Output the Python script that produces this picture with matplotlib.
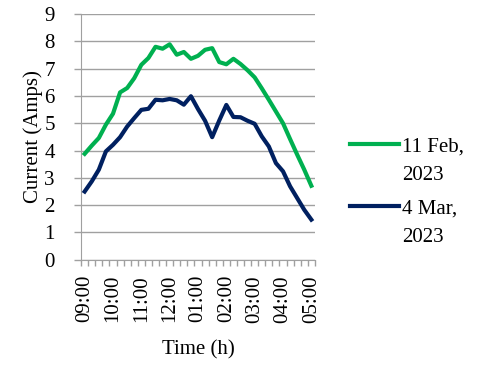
import matplotlib.pyplot as plt
from matplotlib.text import Annotation
import numpy as np

plt.rcParams['font.family'] = ['Liberation Serif', 'DejaVu Serif']

# 15-minute readings from 09:00 to 05:00
hour_labels = ["09:00", "10:00", "11:00", "12:00", "01:00", "02:00", "03:00", "04:00", "05:00"]
feb_11 = [3.88, 4.18, 4.46, 4.95, 5.35, 6.13, 6.29, 6.65, 7.14, 7.39, 7.80,
          7.73, 7.89, 7.51, 7.61, 7.36, 7.47, 7.69, 7.75, 7.24, 7.16, 7.36,
          7.17, 6.94, 6.68, 6.28, 5.86, 5.43, 5.00, 4.42, 3.85, 3.30, 2.71]
mar_4 = [2.50, 2.87, 3.30, 3.97, 4.21, 4.49, 4.88, 5.19, 5.49, 5.53, 5.86,
         5.84, 5.89, 5.84, 5.68, 5.99, 5.52, 5.09, 4.49, 5.10, 5.67, 5.23,
         5.22, 5.09, 4.98, 4.52, 4.15, 3.54, 3.24, 2.69, 2.26, 1.83, 1.47]
series_names = ["11 Feb,", "4 Mar,"]
series_year = "2023"

x = np.arange(len(feb_11))
grey = '#a0a0a0'
fs = 15

fig = plt.figure(figsize=(4.8, 3.69), dpi=100)
ax = fig.add_axes([0.169, 0.296, 0.487, 0.666])

ax.plot(x, feb_11, color='#00b050', lw=3, label=series_names[0], zorder=3)
ax.plot(x, mar_4, color='#002060', lw=3, label=series_names[1], zorder=3)

ax.set_xlim(-0.5, len(x) - 0.5)
ax.set_ylim(0, 9)
ax.set_yticks(range(0, 10))
ax.yaxis.grid(True, color=grey, lw=1)
ax.set_axisbelow(True)

# tick marks between categories, labels every hour
ax.set_xticks(np.arange(-0.5, len(x), 1))
ax.set_xticklabels([])
ax.set_xticks(x[::4], minor=True)
ax.set_xticklabels(hour_labels, minor=True, rotation=90, fontsize=fs)
ax.tick_params(axis='x', which='major', length=4, color=grey, width=1)
ax.tick_params(axis='x', which='minor', length=0, pad=11)
ax.tick_params(axis='y', length=5, color=grey, width=1, labelsize=fs, pad=14)

for s in ['top', 'right']:
    ax.spines[s].set_visible(False)
for s in ['left', 'bottom']:
    ax.spines[s].set_color(grey)

ax.set_ylabel('Current (Amps)', fontsize=fs, labelpad=1)
ax.set_xlabel('Time (h)', fontsize=fs, labelpad=13)

leg = fig.legend(loc='upper left', bbox_to_anchor=(0.69, 0.68), frameon=False,
                 fontsize=fs, handlelength=2.35, handletextpad=0.15, labelspacing=2.05)
# second line of each legend label, drawn after the legend
for t in leg.get_texts():
    a = Annotation(series_year, xy=(0, 0), xycoords=t, xytext=(0, -7),
                   textcoords='offset points', va='top', ha='left', fontsize=fs)
    a.set_zorder(10)
    fig.add_artist(a)

plt.savefig('out.png', dpi=100)
